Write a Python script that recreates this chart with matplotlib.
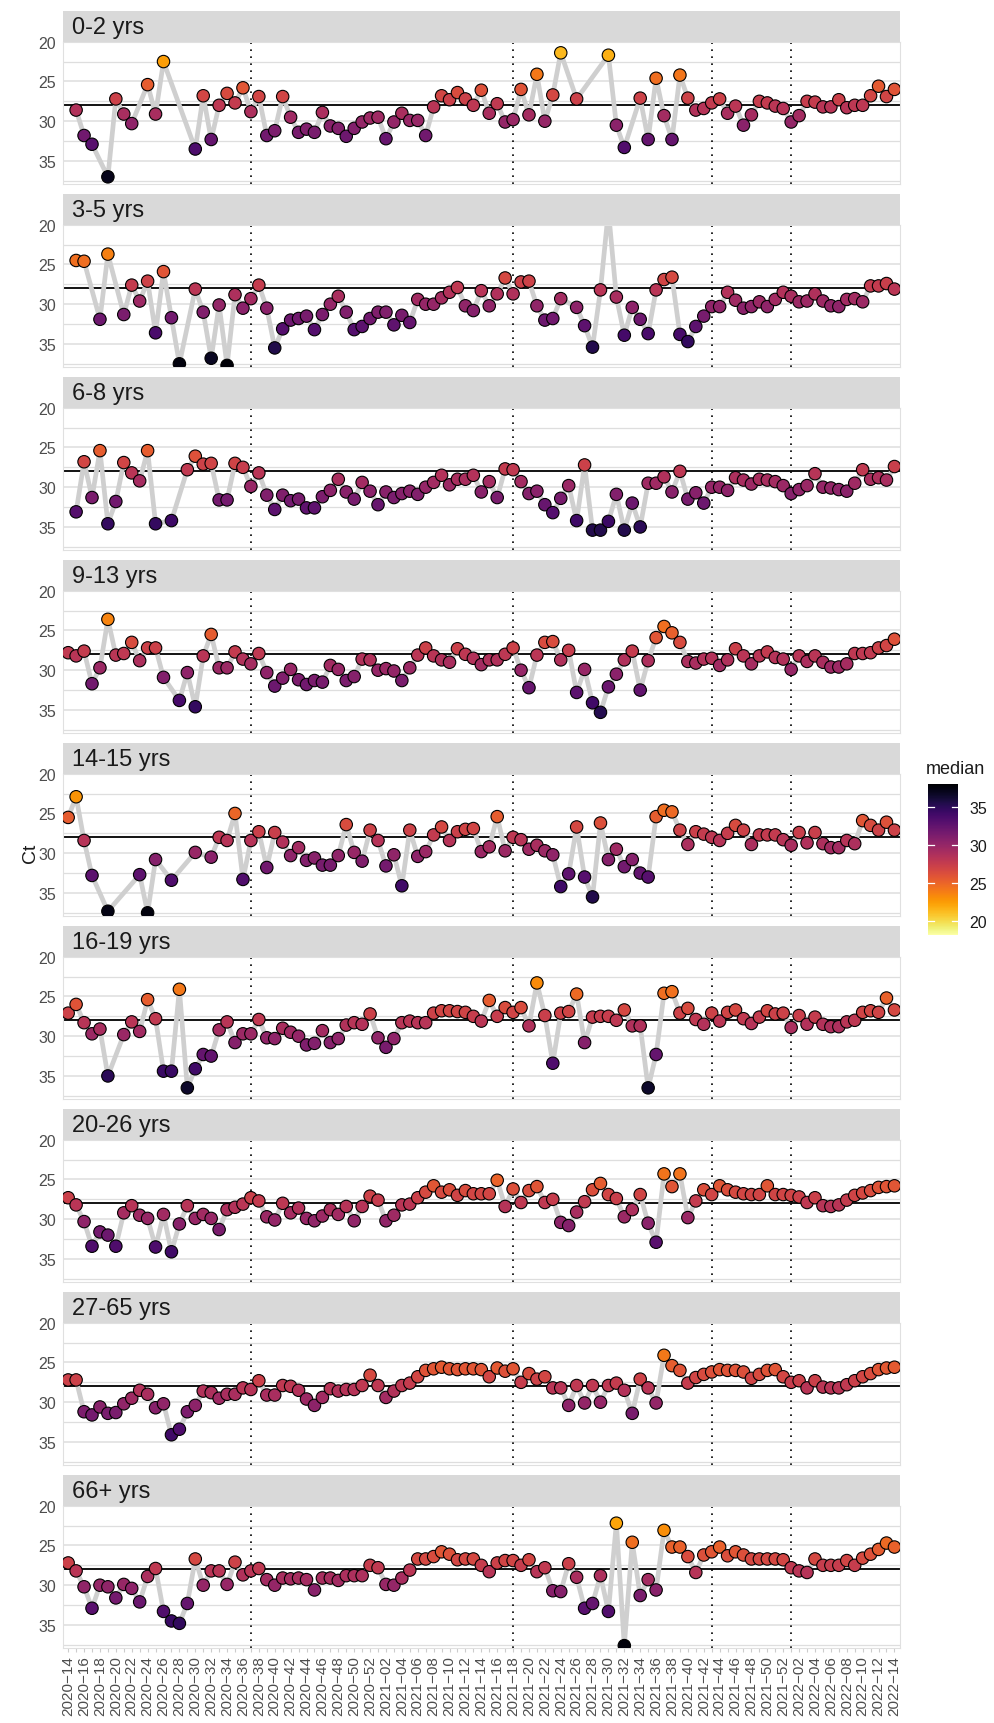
import matplotlib
matplotlib.use('Agg')
import matplotlib.pyplot as plt
import numpy as np
from matplotlib.colors import Normalize

plt.rcParams['font.family'] = ['Liberation Sans', 'DejaVu Sans']

# weekly categories 2020-14 .. 2022-14
weeks = ([f'2020-{w:02d}' for w in range(14, 53)] +
         [f'2021-{w:02d}' for w in range(1, 53)] +
         [f'2022-{w:02d}' for w in range(1, 15)])

groups = ['0-2 yrs', '3-5 yrs', '6-8 yrs', '9-13 yrs', '14-15 yrs',
          '16-19 yrs', '20-26 yrs', '27-65 yrs', '66+ yrs']

N = None
ct_0_2 = [N, 28.6, 31.8, 32.9, N, 37.0, 27.2, 29.1, 30.3, N, 25.4, 29.1, 22.5, N, N, N,
          33.5, 26.8, 32.3, 28.0, 26.5, 27.7, 25.8, 28.8, 26.9, 31.8, 31.2, 26.9, 29.5, 31.4,
          31.0, 31.4, 28.9, 30.6, 30.9, 31.9, 30.9, 30.1, 29.6, 29.5, 32.2, 30.1, 29.0, 29.9,
          29.9, 31.8, 28.2, 26.8, 27.3, 26.4, 27.2, 28.0, 26.1, 29.0, 27.8, 30.1, 29.8, 26.0,
          29.2, 24.1, 30.0, 26.7, 21.4, N, 27.2, N, N, N, 21.7, 30.5, 33.3, N, 27.1, 32.3,
          24.6, 29.3, 32.3, 24.2, 27.1, 28.6, 28.4, 27.7, 27.2, 29.0, 28.1, 30.5, 29.2, 27.5,
          27.7, 28.1, 28.4, 30.1, 29.3, 27.5, 27.6, 28.2, 28.2, 27.3, 28.3, 28.0, 28.0, 26.8,
          25.6, 26.9, 26.0]
ct_3_5 = [N, 24.5, 24.6, N, 31.9, 23.7, N, 31.3, 27.6, 29.6, 27.1, 33.6, 25.9, 31.7, 37.5, N,
          28.1, 31.0, 36.8, 30.1, 37.7, 28.8, 30.5, 29.3, 27.6, 30.5, 35.5, 33.1, 32.0, 31.8,
          31.5, 33.2, 31.3, 30.0, 29.0, 31.0, 33.2, 32.8, 31.8, 31.0, 31.0, 32.6, 31.4, 32.3,
          29.4, 30.0, 30.0, 29.2, 28.5, 27.9, 30.2, 30.8, 28.3, 30.2, 28.7, 26.7, 28.7, 27.2,
          27.1, 30.2, 32.0, 31.8, 29.3, N, 30.4, 32.7, 35.4, 28.2, 18.2, 29.1, 33.9, 30.4,
          31.9, 33.7, 28.2, 26.9, 26.6, 33.8, 34.7, 32.8, 31.5, 30.3, 30.3, 28.5, 29.5, 30.5,
          30.3, 29.7, 30.3, 29.4, 28.5, 29.0, 29.7, 29.6, 28.7, 29.6, 30.2, 30.3, 29.4, 29.3,
          29.7, 27.7, 27.7, 27.4, 28.1]
ct_6_8 = [N, 33.1, 26.8, 31.3, 25.4, 34.6, 31.8, 26.9, 28.2, 29.2, 25.4, 34.6, N, 34.2, N,
          27.8, 26.1, 27.1, 27.0, 31.6, 31.6, 27.0, 27.5, 29.9, 28.2, 31.0, 32.8, 31.0, 31.7,
          31.5, 32.6, 32.6, 31.2, 30.4, 29.0, 30.6, 31.5, 29.4, 30.5, 32.2, 30.6, 31.3, 30.8,
          30.5, 30.9, 30.0, 29.4, 28.5, 29.7, 29.0, 29.0, 28.5, 30.6, 29.3, 31.3, 27.7, 27.8,
          29.3, 30.8, 30.5, 32.2, 33.2, 31.4, 29.8, 34.2, 27.2, 35.4, 35.4, 34.3, 30.9, 35.4,
          32.0, 35.0, 29.5, 29.5, 28.7, 30.6, 28.0, 31.5, 30.7, 32.0, 30.0, 30.0, 30.4, 28.8,
          29.1, 29.6, 29.0, 29.1, 29.3, 29.8, 30.8, 30.3, 29.8, 28.3, 30.0, 30.1, 30.3, 30.5,
          29.5, 27.8, 29.0, 28.8, 29.1, 27.4]
ct_9_13 = [27.8, 28.2, 27.6, 31.7, 29.7, 23.6, 28.1, 27.9, 26.5, 28.8, 27.2, 27.2, 30.9, N,
           33.8, 30.3, 34.6, 28.2, 25.5, 29.7, 29.7, 27.7, 28.6, 29.2, 27.9, 30.3, 32.0, 31.0,
           29.9, 31.2, 31.8, 31.3, 31.5, 29.4, 29.9, 31.3, 30.8, 28.6, 28.7, 30.0, 29.8, 30.1,
           31.3, 29.7, 28.1, 27.2, 28.2, 28.7, 29.0, 27.3, 28.0, 28.5, 29.3, 28.7, 28.7, 28.0,
           27.2, 30.0, 32.2, 28.1, 26.5, 26.4, 28.7, 27.5, 32.8, 29.9, 34.1, 35.3, 32.1, 30.5,
           28.7, 27.6, 32.5, 28.8, 25.9, 24.5, 25.3, 26.5, 28.9, 29.1, 28.6, 28.5, 29.4, 28.7,
           27.3, 28.2, 29.2, 28.2, 27.7, 28.4, 28.6, 29.9, 28.2, 28.9, 28.2, 29.0, 29.6, 29.6,
           29.2, 27.9, 27.9, 27.8, 27.2, 26.9, 26.1]
ct_14_15 = [25.5, 22.9, 28.4, 32.8, N, 37.3, N, N, N, 32.7, 37.5, 30.8, N, 33.4, N, N, 29.9,
            N, 30.5, 28.0, 28.4, 25.0, 33.3, 28.4, 27.3, 31.8, 27.4, 28.6, 30.3, 29.3, 30.9,
            30.6, 31.5, 31.5, 30.3, 26.4, 29.9, 31.0, 27.1, 28.4, 31.6, 30.2, 34.1, 27.1, 30.4,
            29.8, 27.7, 26.7, 28.4, 27.3, 27.0, 26.9, 29.8, 29.2, 25.4, 29.7, 28.0, 28.3, 29.5,
            29.0, 29.7, 30.2, 34.2, 32.6, 26.7, 33.0, 35.5, 26.2, 30.8, 29.5, 31.7, 30.8, 32.5,
            33.0, 25.4, 24.6, 24.8, 27.1, 28.9, 27.3, 27.6, 28.0, 28.4, 27.5, 26.5, 27.1, 28.9,
            27.7, 27.7, 27.7, 28.3, 29.0, 27.4, 28.7, 27.4, 28.8, 29.3, 29.3, 28.4, 28.8, 25.9,
            26.5, 27.1, 26.1, 27.1]
ct_16_19 = [27.1, 26.0, 28.3, 29.7, 29.1, 35.0, N, 29.8, 28.2, 29.4, 25.4, 27.8, 34.4, 34.4,
            24.1, 36.5, 34.1, 32.3, 32.5, 29.2, 28.2, 30.8, 29.7, 29.7, 27.9, 30.2, 30.3, 29.0,
            29.5, 30.0, 31.1, 30.9, 29.3, 30.8, 30.3, 28.6, 28.3, 28.5, 27.2, 30.2, 31.4, 30.3,
            28.3, 28.1, 28.3, 28.3, 27.1, 26.8, 26.8, 26.9, 27.0, 27.5, 28.1, 25.5, 27.5, 26.4,
            27.0, 26.4, 28.7, 23.3, 27.4, 33.4, 27.1, 26.9, 24.7, 30.8, 27.6, 27.5, 27.5, 28.0,
            26.7, 28.7, 28.7, 36.5, 32.3, 24.6, 24.4, 27.1, 26.5, 27.9, 28.5, 27.1, 28.1, 27.0,
            26.7, 27.8, 28.4, 27.6, 26.8, 27.2, 27.1, 28.9, 27.4, 28.5, 27.6, 28.5, 28.8, 28.8,
            28.2, 28.0, 27.0, 26.8, 27.0, 25.2, 26.7]
ct_20_26 = [27.3, 28.2, 30.3, 33.4, 31.6, 32.0, 33.4, 29.2, 28.3, 29.5, 29.9, 33.5, 29.4, 34.1,
            30.6, 28.3, 29.9, 29.4, 29.9, 31.3, 28.8, 28.5, 28.1, 27.3, 27.7, 29.7, 30.1, 28.0,
            29.2, 28.6, 29.9, 30.2, 29.6, 28.8, 29.4, 28.4, 30.2, 28.4, 27.1, 27.6, 30.2, 29.5,
            28.2, 28.1, 27.3, 26.6, 25.8, 26.6, 26.3, 27.0, 26.4, 26.8, 26.8, 26.8, 25.1, 28.4,
            26.2, 27.9, 26.4, 25.9, 27.9, 27.5, 30.4, 30.8, 29.1, 27.8, 26.3, 25.5, 26.9, 27.4,
            29.7, 28.8, 26.9, 30.5, 32.9, 24.3, 25.9, 24.3, 29.8, 27.7, 26.3, 26.9, 25.8, 26.3,
            26.6, 26.8, 26.9, 26.9, 25.8, 26.9, 26.9, 27.0, 27.2, 27.9, 27.3, 28.3, 28.4, 28.2,
            27.6, 27.0, 26.7, 26.4, 26.0, 25.9, 25.8]
ct_27_65 = [27.2, 27.2, 31.2, 31.6, 30.6, 31.4, 31.3, 30.2, 29.5, 28.5, 29.0, 30.7, 30.2, 34.1,
            33.4, 31.2, 30.4, 28.6, 28.8, 29.5, 29.0, 29.0, 28.2, 28.4, 27.3, 29.1, 29.1, 27.9,
            28.0, 28.5, 29.6, 30.4, 29.4, 28.3, 28.6, 28.4, 28.4, 27.9, 26.6, 27.9, 29.4, 28.6,
            27.9, 27.6, 26.8, 26.0, 25.8, 25.6, 25.8, 25.9, 25.8, 25.8, 25.9, 26.8, 25.7, 26.1,
            25.8, 27.5, 26.4, 27.1, 26.8, 28.2, 28.2, 30.4, 27.9, 30.1, 27.9, 30.0, 27.9, 27.6,
            28.5, 31.4, 27.1, 28.2, 30.1, 24.1, 25.4, 26.0, 27.6, 26.9, 26.5, 26.2, 25.9, 26.0,
            26.0, 26.2, 27.0, 26.5, 26.0, 25.9, 26.8, 27.5, 27.3, 28.2, 27.3, 28.1, 28.2, 28.2,
            27.8, 27.3, 26.8, 26.4, 25.9, 25.7, 25.6]
ct_66 = [27.2, 28.2, 30.2, 32.9, 30.0, 30.2, 31.6, 29.9, 30.4, 32.1, 28.9, 27.9, 33.3, 34.5,
         34.8, 32.3, 26.7, 30.0, 28.2, 28.2, 29.9, 27.1, 28.7, 28.2, 27.9, 29.3, 30.0, 29.1,
         29.2, 29.1, 29.3, 30.6, 29.1, 29.1, 29.4, 28.8, 28.8, 28.8, 27.5, 27.8, 29.9, 30.0,
         29.1, 28.1, 26.7, 26.7, 26.4, 25.8, 26.1, 26.8, 26.7, 26.7, 27.5, 28.3, 27.2, 26.9,
         26.9, 27.5, 26.8, 28.3, 27.8, 30.7, 30.8, 27.3, 29.0, 32.9, 32.3, 28.8, 33.3, 22.2,
         37.6, 24.6, 31.3, 29.3, 30.6, 23.1, 25.2, 25.2, 26.4, 28.4, 26.2, 25.8, 25.2, 26.3,
         25.8, 26.2, 26.7, 26.7, 26.7, 26.7, 26.8, 27.8, 28.2, 28.4, 26.7, 27.5, 27.5, 27.5,
         26.9, 27.5, 26.6, 26.1, 25.5, 24.7, 25.2]

series = [ct_0_2, ct_3_5, ct_6_8, ct_9_13, ct_14_15, ct_16_19, ct_20_26, ct_27_65, ct_66]

ref_ct = 28
vline_weeks = ['2020-37', '2021-18', '2021-43', '2022-01']
ct_min, ct_max = 18.2, 38.0

W, H = 994, 1724
fig = plt.figure(figsize=(W / 100, H / 100), dpi=100)
norm = Normalize(vmin=ct_min, vmax=ct_max)
cmap = plt.get_cmap('inferno_r')

x_left, x_right = 63, 900
pitch, strip_h, panel_h, top0 = 183.0, 31.0, 142.3, 11.7
xs = np.arange(len(weeks))
grid_col = '#DEDEDE'
txt_col = '#4D4D4D'

for k, (name, vals) in enumerate(zip(groups, series)):
    top = top0 + pitch * k
    # strip
    sax = fig.add_axes([x_left / W, 1 - (top + strip_h) / H, (x_right - x_left) / W, strip_h / H])
    sax.set_facecolor('#D9D9D9')
    sax.set_xticks([]); sax.set_yticks([])
    for s in sax.spines.values():
        s.set_visible(False)
    sax.text(0.011, 0.46, name, transform=sax.transAxes, ha='left', va='center',
             fontsize=17, color='#1A1A1A')

    ax = fig.add_axes([x_left / W, 1 - (top + strip_h + panel_h) / H,
                       (x_right - x_left) / W, panel_h / H])
    v = np.array([np.nan if a is None else a for a in vals], dtype=float)
    ok = ~np.isnan(v)
    ax.set_xlim(-0.65, 104.7)
    ax.set_ylim(37.9, 20)
    for yv in [20, 25, 30, 35]:
        ax.axhline(yv, color=grid_col, lw=1.1, zorder=0)
    for yv in [22.5, 27.5, 32.5, 37.5]:
        ax.axhline(yv, color=grid_col, lw=0.9, zorder=0)
    for wk in vline_weeks:
        ax.axvline(weeks.index(wk), color='black', lw=1.2, ls=(0, (1, 3.2)), zorder=1)
    ax.axhline(ref_ct, color='black', lw=1.3, zorder=1.5)
    ax.plot(xs[ok], v[ok], color='#CFCFCF', lw=3.4, zorder=2, solid_joinstyle='round')
    ax.scatter(xs[ok], v[ok], c=v[ok], cmap=cmap, norm=norm, s=80,
               edgecolors='black', linewidths=0.8, zorder=3)
    for s in ax.spines.values():
        s.set_color('#E0E0E0')
        s.set_linewidth(0.8)
    ax.set_yticks([20, 25, 30, 35])
    ax.set_yticklabels(['20', '25', '30', '35'], fontsize=11.5, color=txt_col)
    ax.tick_params(axis='y', length=0, pad=5)
    ax.set_xticks(xs)
    if k == len(groups) - 1:
        labs = [w.replace('-', '\u2212') if int(w[-2:]) % 2 == 0 else '' for w in weeks]
        ax.set_xticklabels(labs, rotation=90, fontsize=11, color=txt_col)
        ax.tick_params(axis='x', length=3, color='#CCCCCC', pad=2)
    else:
        ax.tick_params(axis='x', length=0, labelbottom=False)

fig.text(31 / W, 1 - 853 / H, 'Ct', rotation=90, ha='center', va='center',
         fontsize=14, color='#1A1A1A')

# colorbar
cax = fig.add_axes([928 / W, 1 - 936 / H, 30 / W, 151 / H])
cb = fig.colorbar(plt.cm.ScalarMappable(norm=norm, cmap=cmap), cax=cax)
cb.outline.set_visible(False)
cb.set_ticks([20, 25, 30, 35])
cax.tick_params(length=0, labelsize=11.5, labelcolor='#1A1A1A', pad=8)
for t in [20, 25, 30, 35]:
    cax.plot([0, 0.2], [t, t], color='white', lw=0.9, transform=cax.get_yaxis_transform())
    cax.plot([0.8, 1.0], [t, t], color='white', lw=0.9, transform=cax.get_yaxis_transform())
fig.text(926 / W, 1 - 769 / H, 'median', ha='left', va='center', fontsize=13, color='#1A1A1A')

fig.savefig('out.png', dpi=100, facecolor='white')
